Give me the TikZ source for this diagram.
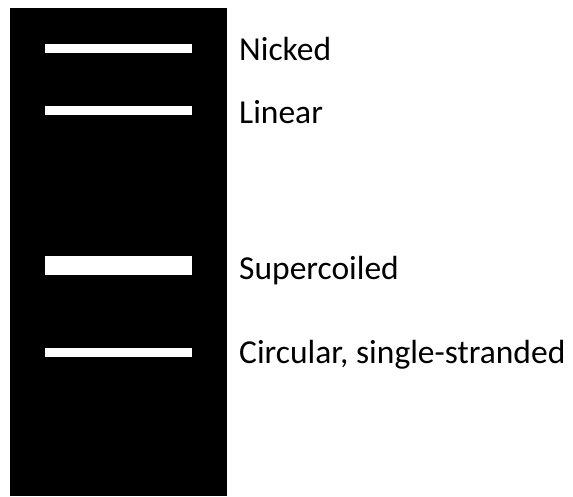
\documentclass[tikz,border=0pt]{standalone}
\usepackage{fontspec}
\setmainfont{Carlito}
\begin{document}
\begin{tikzpicture}[x=1pt,y=-1pt,
  band/.style={fill=white},
  lbl/.style={anchor=base west,inner sep=0pt,font=\fontsize{33.5}{38}\selectfont}]
\useasboundingbox (0,0) rectangle (573,496);
\fill[black] (10,8) rectangle (227,496);
\fill[band] (45,43.5) rectangle (192,52.5);
\fill[band] (45,106) rectangle (192,115);
\fill[band] (45,256) rectangle (192,275);
\fill[band] (45,348) rectangle (192,357);
\node[lbl] (nicked) at (239,60) {Nicked};
\node[lbl] (linear) at (239,123) {Linear};
\node[lbl] (super) at (239,279) {Supercoiled};
\node[lbl] (circ) at (239,363) {Circular, single-stranded};
\end{tikzpicture}
\end{document}
